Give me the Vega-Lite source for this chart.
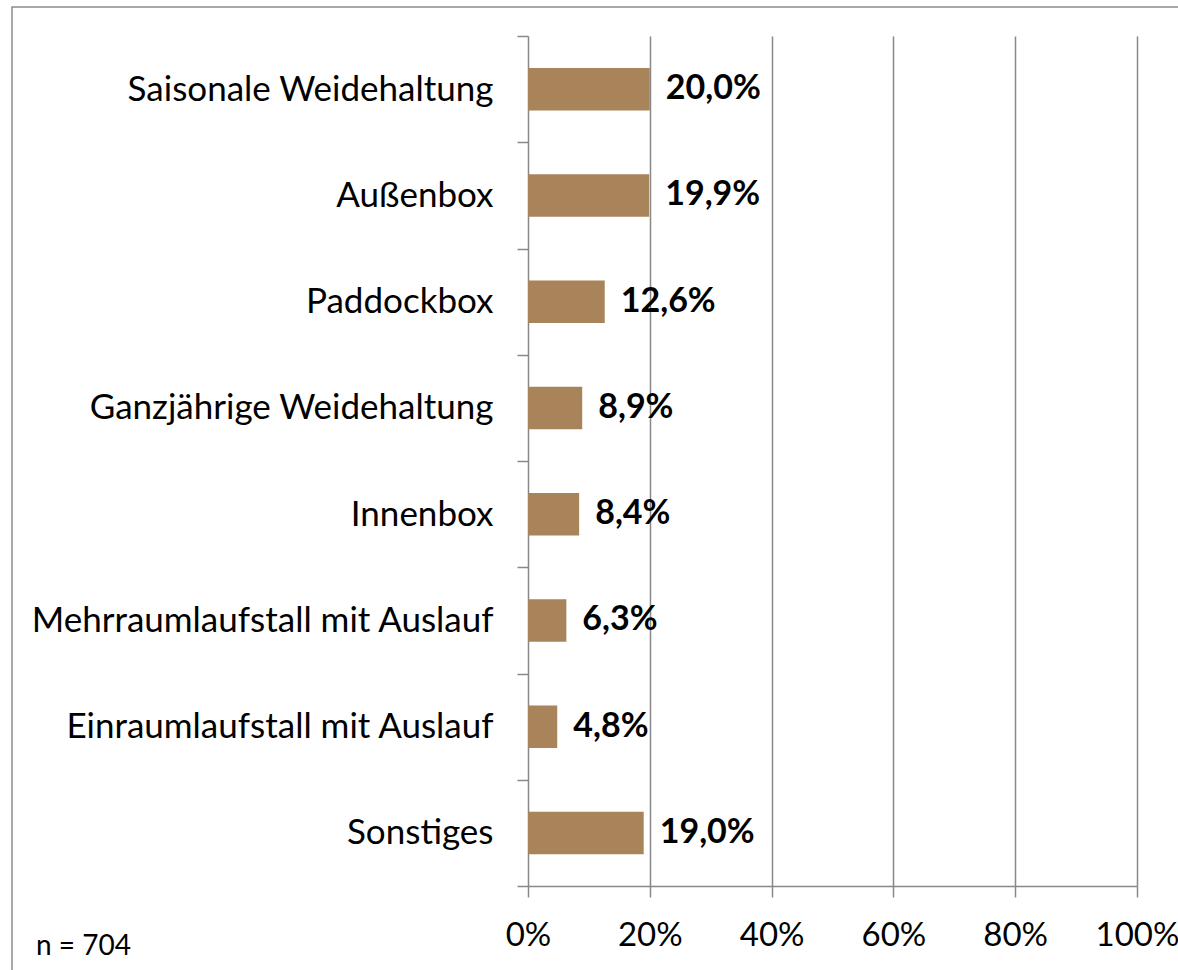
{
  "$schema": "https://vega.github.io/schema/vega-lite/v6.json",
  "width": 1169,
  "height": 966,
  "autosize": {"type": "none"},
  "padding": {"left": 12, "top": 7, "right": -3, "bottom": -3},
  "background": "white",
  "title": {
    "text": "n = 704",
    "orient": "bottom",
    "anchor": "start",
    "frame": "group",
    "offset": -40,
    "dx": 24,
    "baseline": "top",
    "font": "Lato",
    "fontSize": 28,
    "fontWeight": "normal",
    "color": "black"
  },
  "data": {
    "values": [
      {"category": "Saisonale Weidehaltung", "share": 0.200},
      {"category": "Außenbox", "share": 0.199},
      {"category": "Paddockbox", "share": 0.126},
      {"category": "Ganzjährige Weidehaltung", "share": 0.089},
      {"category": "Innenbox", "share": 0.084},
      {"category": "Mehrraumlaufstall mit Auslauf", "share": 0.063},
      {"category": "Einraumlaufstall mit Auslauf", "share": 0.048},
      {"category": "Sonstiges", "share": 0.190}
    ]
  },
  "encoding": {
    "y": {
      "field": "category",
      "type": "nominal",
      "sort": null,
      "scale": {"range": [29, 879], "paddingInner": 0, "paddingOuter": 0},
      "axis": {
        "title": null,
        "orient": "left",
        "offset": -516,
        "tickBand": "extent",
        "grid": false,
        "domainColor": "#888888",
        "domainWidth": 1.5,
        "tickColor": "#888888",
        "tickWidth": 1.5,
        "tickSize": 11,
        "labelPadding": 24,
        "labelFont": "Lato",
        "labelFontSize": 35,
        "labelColor": "black",
        "labelLimit": 600
      }
    }
  },
  "layer": [
    {
      "mark": {"type": "bar", "color": "#a9835a", "height": {"band": 0.4}},
      "encoding": {
        "x": {
          "field": "share",
          "type": "quantitative",
          "scale": {"domain": [0, 1], "range": [516, 1125], "nice": false, "zero": true},
          "axis": {
            "title": null,
            "orient": "top",
            "offset": 0,
            "values": [0.2, 0.4, 0.6, 0.8, 1],
            "grid": true,
            "gridColor": "#888888",
            "gridWidth": 1.5,
            "domain": false,
            "ticks": false,
            "labels": false
          }
        }
      }
    },
    {
      "mark": {
        "type": "text",
        "align": "left",
        "baseline": "middle",
        "dx": 16,
        "font": "Lato",
        "fontSize": 34,
        "fontWeight": "bold",
        "color": "black"
      },
      "encoding": {
        "x": {
          "field": "share",
          "type": "quantitative",
          "axis": {
            "title": null,
            "orient": "bottom",
            "offset": -87,
            "format": ".0%",
            "values": [0, 0.2, 0.4, 0.6, 0.8, 1],
            "grid": false,
            "domainColor": "#888888",
            "domainWidth": 1.5,
            "tickColor": "#888888",
            "tickWidth": 1.5,
            "tickSize": 11,
            "labelPadding": 22,
            "labelFont": "Lato",
            "labelFontSize": 33,
            "labelColor": "black",
            "labelFlush": false,
            "labelOverlap": false
          }
        },
        "text": {"field": "share", "type": "quantitative", "format": ".1%"}
      }
    }
  ],
  "resolve": {"axis": {"x": "independent"}},
  "config": {
    "view": {"stroke": "#8c8c8c", "strokeWidth": 1.5},
    "locale": {
      "number": {"decimal": ",", "thousands": ".", "grouping": [3], "currency": ["", " €"]}
    }
  }
}
